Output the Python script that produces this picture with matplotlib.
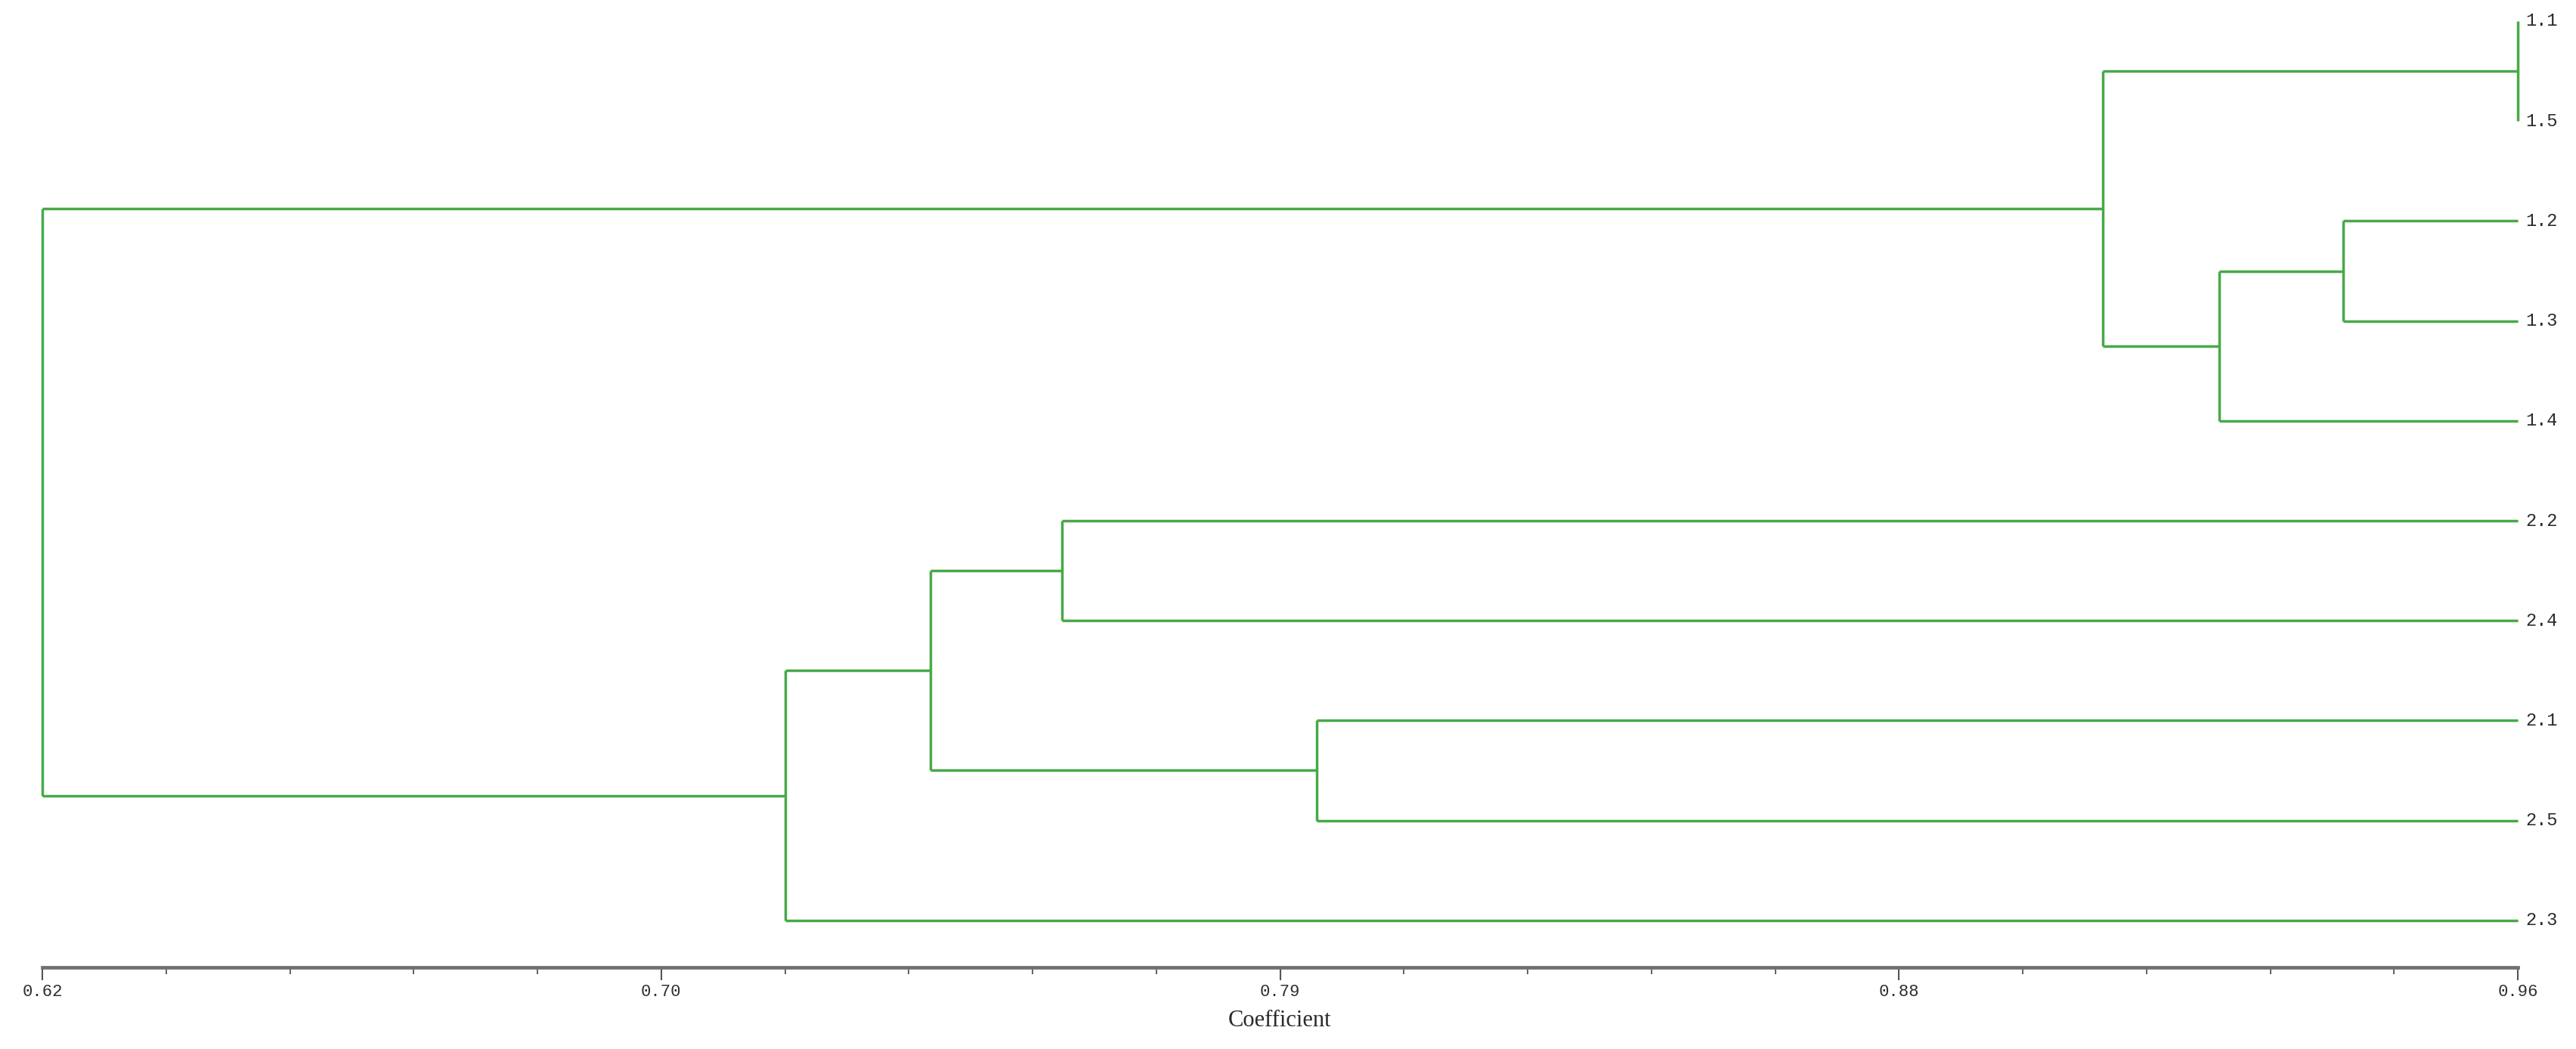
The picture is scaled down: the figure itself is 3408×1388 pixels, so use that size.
import matplotlib
matplotlib.use("Agg")
import matplotlib.pyplot as plt
from matplotlib.ticker import FixedLocator

# ---- data ----
leaf_labels = ['1.1', '1.5', '1.2', '1.3', '1.4', '2.2', '2.4', '2.1', '2.5', '2.3']
# merges: node ids 0..9 are leaves, new clusters get ids 10, 11, ...
merge_a = [0, 2, 11, 10, 5, 7, 14, 16, 13]
merge_b = [1, 3, 4, 12, 6, 8, 15, 9, 17]
merge_coef = [0.960, 0.936, 0.919, 0.903, 0.760, 0.795, 0.742, 0.722, 0.620]

tick_values = [0.62, 0.705, 0.79, 0.875, 0.96]
tick_labels = ['0.62', '0.70', '0.79', '0.88', '0.96']
minor_step = 0.017
x_min, x_max = 0.62, 0.96
axis_title = 'Coefficient'

# ---- layout ----
W, H, DPI = 3408, 1388, 100
fig = plt.figure(figsize=(W / DPI, H / DPI), dpi=DPI, facecolor='white')
left_px, right_px = 56, 3331
axis_px = 1280
ax = fig.add_axes([left_px / W, (H - axis_px) / H, (right_px - left_px) / W, axis_px / H])

line_color = '#47a947'
lw = 2.5

n = len(leaf_labels)
node_x = {i: x_max for i in range(n)}
node_y = {i: float(i) for i in range(n)}
for k, (a, b, c) in enumerate(zip(merge_a, merge_b, merge_coef)):
    nid = n + k
    ya, yb = node_y[a], node_y[b]
    # vertical connector
    ax.plot([c, c], [ya, yb], color=line_color, lw=lw, solid_capstyle='butt', clip_on=False)
    # horizontal links to children
    for ch in (a, b):
        if node_x[ch] != c:
            ax.plot([c, node_x[ch]], [node_y[ch], node_y[ch]], color=line_color, lw=lw,
                    solid_capstyle='butt', clip_on=False)
    node_x[nid] = c
    node_y[nid] = (ya + yb) / 2

for i, lab in enumerate(leaf_labels):
    ax.annotate(lab, xy=(x_max, i), xytext=(10, 0), textcoords='offset pixels',
                ha='left', va='center', fontsize=17, family='Liberation Mono',
                color='#2a2a2a', annotation_clip=False)

ax.set_xlim(x_min, x_max)
step_px = 132.2
top_px = 28
top_y = -top_px / step_px
bottom_y = (n - 1) + (axis_px - (top_px + (n - 1) * step_px)) / step_px
ax.set_ylim(bottom_y, top_y)

for s in ['top', 'right', 'left']:
    ax.spines[s].set_visible(False)
ax.spines['bottom'].set_color('#707070')
ax.spines['bottom'].set_linewidth(3.4)
ax.set_yticks([])

ax.xaxis.set_major_locator(FixedLocator(tick_values))
ax.set_xticklabels(tick_labels, family='Liberation Mono', fontsize=16, color='#2f2f2f')
minors = [x_min + minor_step * k for k in range(21) if k % 5 != 0]
ax.xaxis.set_minor_locator(FixedLocator(minors))
ax.tick_params(axis='x', which='major', length=12, width=1.5, color='#555555', pad=4, direction='out')
ax.tick_params(axis='x', which='minor', length=6.5, width=1.3, color='#555555', direction='out')
ax.patch.set_visible(False)

fig.text(1693 / W, 1 - 1350 / H, axis_title, ha='center', va='center',
         fontsize=22, family='Liberation Serif', color='#2a2a2a')

fig.savefig('out.png', dpi=DPI, facecolor='white')
